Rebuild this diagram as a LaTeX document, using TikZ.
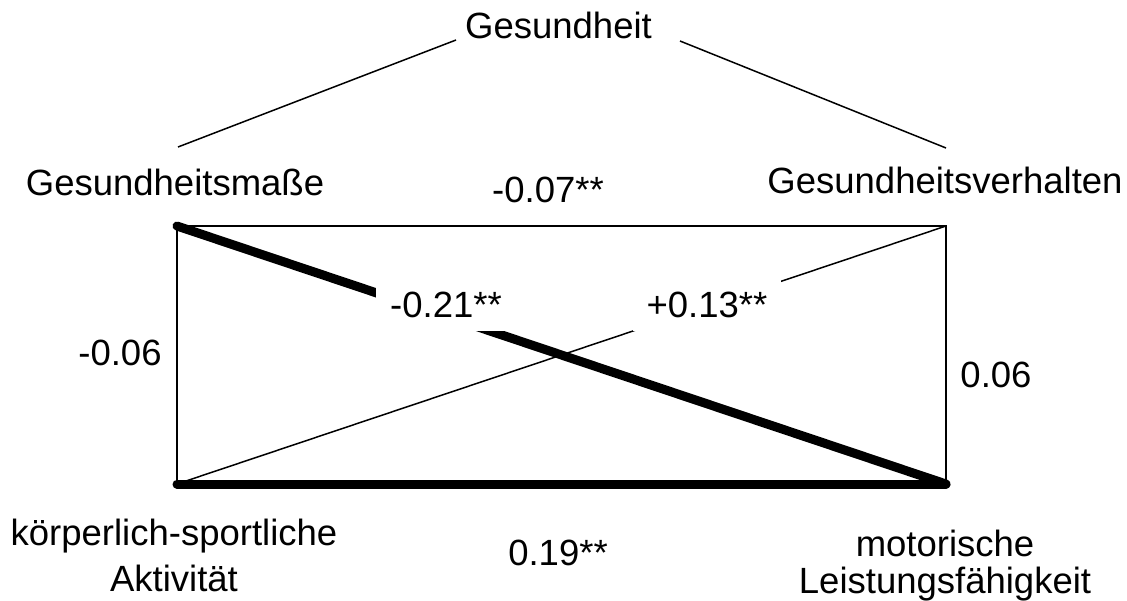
\documentclass[tikz,border=0pt]{standalone}
\usepackage{fontspec}
\setmainfont{Liberation Sans}
\begin{document}
\begin{tikzpicture}[x=1pt,y=-1pt,
  lbl/.style={font=\fontsize{36.5}{40}\selectfont, inner sep=0pt, anchor=base},
  boxlbl/.style={font=\fontsize{36.5}{40}\selectfont, fill=white, inner xsep=14pt, inner ysep=13pt},
  thin/.style={line width=1.5pt},
  thick/.style={line width=9pt, line cap=round}]
\useasboundingbox (0,0) rectangle (1127,600);
\coordinate (TL) at (177,226);
\coordinate (TR) at (946,226);
\coordinate (BL) at (177,484);
\coordinate (BR) at (946,484);
\coordinate (GL1) at (178,147);
\coordinate (GL2) at (456,40);
\coordinate (GR1) at (680,41);
\coordinate (GR2) at (946,148);
\node[lbl] (gh) at (558.5,38) {Gesundheit};
\draw[thin] (GL1) -- (GL2);
\draw[thin] (GR1) -- (GR2);
\node[lbl] (gm) at (175,195) {Gesundheitsmaße};
\node[lbl] (gv) at (945,193) {Gesundheitsverhalten};
\node[lbl] (l07) at (548,202) {-0.07**};
\node[lbl] (l06a) at (120,365) {-0.06};
\node[lbl] (l06b) at (996,387) {0.06};
\node[lbl] (l19) at (558,565) {0.19**};
\node[lbl] (ka1) at (174,545) {körperlich-sportliche};
\node[lbl] (ka2) at (174,591) {Aktivität};
\node[lbl] (ml1) at (945,556) {motorische};
\node[lbl] (ml2) at (945,593) {Leistungsfähigkeit};
\draw[thin] (TL) -- (TR) -- (BR);
\draw[thin] (TL) -- (BL);
\draw[thin] (BL) -- (TR);
\draw[thick] (TL) -- (BR);
\draw[thick] (BL) -- (BR);
\node[boxlbl] (l21) at (446,305) {-0.21**};
\node[boxlbl] (l13) at (707,305) {+0.13**};
\end{tikzpicture}
\end{document}
